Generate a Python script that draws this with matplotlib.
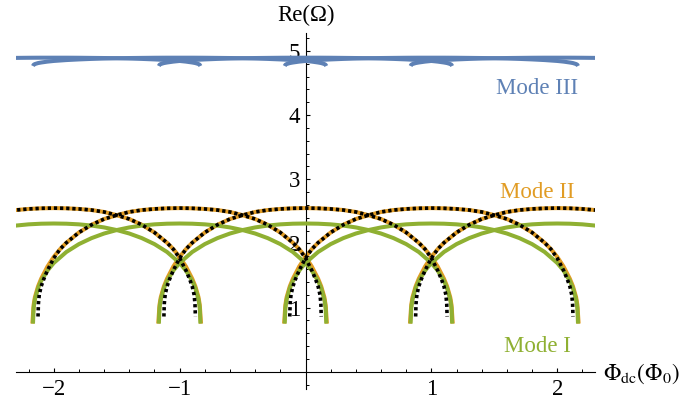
import numpy as np
import matplotlib
matplotlib.use("Agg")
import matplotlib.pyplot as plt
from matplotlib.ticker import MultipleLocator

plt.rcParams['font.family'] = ['Liberation Serif', 'DejaVu Serif']
plt.rcParams['mathtext.fontset'] = 'stix'

# ---- data ----
# arch centres (flux quanta); every arch has the same profile, mirrored about its centre
centers = [-2, -1, 0, 1, 2]

# Mode I (green) profile: distance from centre -> Re(Omega)
d_I = [0.0, 0.1, 0.2, 0.3, 0.4, 0.5, 0.6, 0.7, 0.8, 0.9, 1.0, 1.05, 1.1, 1.125, 1.15, 1.16, 1.165]
v_I = [2.31, 2.307, 2.297, 2.278, 2.249, 2.208, 2.154, 2.082, 1.989, 1.866, 1.695, 1.576, 1.415, 1.30, 1.124, 0.991, 0.75]

# Mode II (orange) profile
d_II = [0.0, 0.1, 0.2, 0.3, 0.4, 0.5, 0.6, 0.7, 0.8, 0.9, 0.95, 1.0, 1.05, 1.1, 1.125, 1.15, 1.16, 1.17]
v_II = [2.55, 2.547, 2.537, 2.52, 2.49, 2.44, 2.38, 2.29, 2.17, 2.01, 1.91, 1.79, 1.64, 1.45, 1.33, 1.16, 1.04, 0.75]

# approximation (black dotted) profile
d_ap = [0.0, 0.1, 0.2, 0.3, 0.4, 0.5, 0.6, 0.7, 0.8, 0.9, 0.95, 1.0, 1.05, 1.08, 1.1, 1.115, 1.122, 1.125]
v_ap = [2.55, 2.547, 2.537, 2.52, 2.49, 2.44, 2.38, 2.29, 2.17, 2.01, 1.91, 1.77, 1.58, 1.44, 1.33, 1.20, 1.06, 0.86]

# Mode III (blue) profile
d_III = [0.0, 0.1, 0.2, 0.3, 0.4, 0.5, 0.6, 0.7, 0.8, 0.9, 1.0, 1.05, 1.1, 1.125, 1.15, 1.16, 1.165]
v_III = [4.895, 4.895, 4.894, 4.892, 4.890, 4.887, 4.882, 4.876, 4.868, 4.858, 4.844, 4.834, 4.820, 4.811, 4.796, 4.785, 4.765]

x_ticks = [-2, -1, 1, 2]
y_ticks = [1, 2, 3, 4, 5]

mode_labels = ['Mode III', 'Mode II', 'Mode I']
label_x = [1.84, 1.84, 1.84]
label_y = [4.42, 2.79, 0.39]

# ---- styles ----
c_blue = '#5E81B5'
c_orange = '#E19C24'
c_green = '#8FB032'

fig = plt.figure(figsize=(6.89, 4.05), dpi=100)
ax = fig.add_axes([16/689, 16/405, (595-16)/689, (389-33)/405])
ax.set_xlim(-2.3, 2.3)
ax.set_ylim(-0.27, 5.28)


def arch(c, d, v):
    d = np.asarray(d)
    v = np.asarray(v)
    xs = np.concatenate([c - d[::-1], c + d[1:]])
    ys = np.concatenate([v[::-1], v[1:]])
    return xs, ys


for c in centers:
    xs, ys = arch(c, d_II, v_II)
    ax.plot(xs, ys, color=c_orange, lw=2.9, solid_capstyle='butt', zorder=2)
for c in centers:
    xs, ys = arch(c, d_I, v_I)
    ax.plot(xs, ys, color=c_green, lw=2.9, solid_capstyle='butt', zorder=3)
for c in centers:
    xs, ys = arch(c, d_III, v_III)
    ax.plot(xs, ys, color=c_blue, lw=2.9, solid_capstyle='butt', zorder=3)
for c in centers:
    xs, ys = arch(c, d_ap, v_ap)
    ax.plot(xs, ys, color='black', lw=2.6, linestyle=(0, (0.9, 0.8)),
            dash_capstyle='butt', zorder=4)

# axes through the origin
for s in ['top', 'right']:
    ax.spines[s].set_visible(False)
ax.spines['left'].set_position(('data', 0))
ax.spines['bottom'].set_position(('data', 0))
for s in ['left', 'bottom']:
    ax.spines[s].set_linewidth(0.8)
ax.patch.set_visible(False)

ax.set_xticks(x_ticks)
ax.set_yticks(y_ticks)
ax.set_xticklabels(['\u2212%d' % abs(t) if t < 0 else str(t) for t in x_ticks])
ax.set_yticklabels([str(t) for t in y_ticks])
ax.xaxis.set_minor_locator(MultipleLocator(0.2))
ax.yaxis.set_minor_locator(MultipleLocator(0.2))
ax.tick_params(which='major', direction='in', length=3.2, width=0.8, labelsize=16.5)
ax.tick_params(which='minor', direction='in', length=2.0, width=0.7)
ax.tick_params(axis='x', which='major', pad=5)
ax.tick_params(axis='y', which='major', pad=4)

fig.text(306/689, 1 - 15/405, 'Re(\u03a9)', ha='center', va='center', fontsize=16.5)
fig.text(603/689, 1 - 380/405, r'$\Phi_{\rm dc}(\Phi_0)$', ha='left', va='baseline', fontsize=16.5)

for txt, x, y, col in zip(mode_labels, label_x, label_y, [c_blue, c_orange, c_green]):
    ax.text(x, y, txt, color=col, ha='center', va='center', fontsize=16.5)

fig.savefig('out.png', dpi=100)
